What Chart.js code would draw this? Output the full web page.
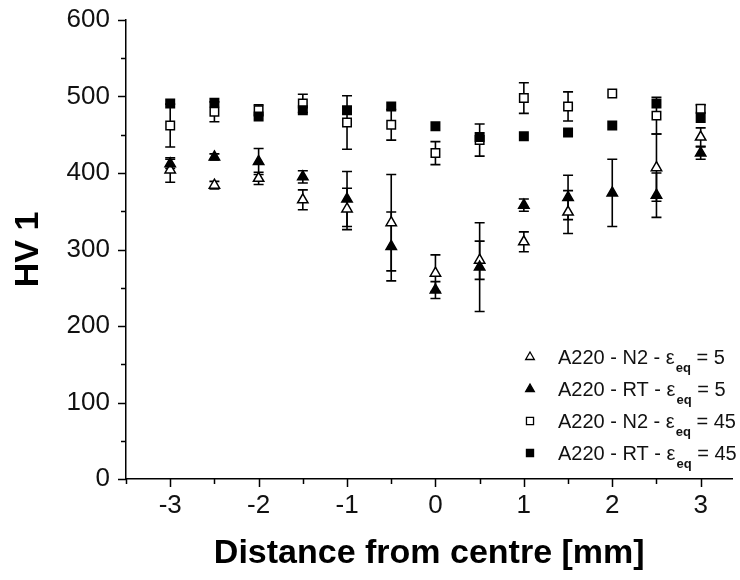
<!DOCTYPE html>
<html><head><meta charset="utf-8">
<script src="https://cdn.jsdelivr.net/npm/chart.js@4.4.0/dist/chart.umd.min.js"></script>
<style>html,body{margin:0;padding:0;background:#fff;overflow:hidden;} #wrap{width:740px;height:580px;}</style>
</head><body><div id="wrap"><canvas id="c" width="740" height="580"></canvas></div>
<script>
// ---- data ----
const distances = [-3, -2.5, -2, -1.5, -1, -0.5, 0, 0.5, 1, 1.5, 2, 2.5, 3];
const n2Eps5     = [404, 384, 393, 365, 353, 335, 269, 286, 310, 349, null, 407, 447];
const n2Eps5Err  = [16, 5, 8, 13, 27, 63, 24, 25, 13, 28, 0, 44, 12];
const rtEps5     = [412, 421, 415, 395, 366, 304, 247, 277, 358, 368, 374, 371, 426];
const rtEps5Err  = [6, 4, 17, 8, 36, 45, 11, 58, 8, 29, 44, 29, 8];
const n2Eps45    = [462, 480, 482, 491, 466, 463, 426, 443, 498, 487, 504, 475, 484];
const n2Eps45Err = [28, 13, 7, 12, 35, 20, 15, 21, 20, 19, 0, 24, 5];
const rtEps45    = [491, 492, 474, 482, 482, 487, 461, 447, 448, 453, 462, 491, 472];
const rtEps45Err = [0, 0, 0, 0, 0, 0, 0, 0, 0, 0, 0, 0, 0];
const seriesNames = [
  {pre: 'A220 - N2 - ε', sub: 'eq', post: ' = 5'},
  {pre: 'A220 - RT - ε', sub: 'eq', post: ' = 5'},
  {pre: 'A220 - N2 - ε', sub: 'eq', post: ' = 45'},
  {pre: 'A220 - RT - ε', sub: 'eq', post: ' = 45'}
];
const xTitle = 'Distance from centre [mm]';
const yTitle = 'HV 1';

const FONT = '"Liberation Sans", Arial, Helvetica, sans-serif';

function pts(vals) {
  const out = [];
  distances.forEach((d, i) => { if (vals[i] !== null) out.push({x: d, y: vals[i]}); });
  return out;
}
function errs(vals, e) {
  const out = [];
  distances.forEach((d, i) => { if (vals[i] !== null) out.push(e[i]); });
  return out;
}

const styles = [
  {pointStyle: 'triangle', fill: '#ffffff'},
  {pointStyle: 'triangle', fill: '#000000'},
  {pointStyle: 'rect', fill: '#ffffff'},
  {pointStyle: 'rect', fill: '#000000'}
];
const allVals = [n2Eps5, rtEps5, n2Eps45, rtEps45];
const allErrs = [n2Eps5Err, rtEps5Err, n2Eps45Err, rtEps45Err];

const datasets = allVals.map((v, k) => ({
  label: seriesNames[k].pre + seriesNames[k].sub + seriesNames[k].post,
  data: pts(v),
  errors: errs(v, allErrs[k]),
  showLine: false,
  pointStyle: styles[k].pointStyle,
  pointRadius: 6,
  pointHoverRadius: 6,
  backgroundColor: styles[k].fill,
  borderColor: '#000',
  borderWidth: 1.5,
  order: 4 - k
}));

const errorBarPlugin = {
  id: 'errorBars',
  beforeDatasetsDraw(chart) {
    const ctx = chart.ctx, xs = chart.scales.x, ys = chart.scales.y;
    ctx.save();
    ctx.strokeStyle = '#000';
    ctx.lineWidth = 1.6;
    chart.data.datasets.forEach(ds => {
      ds.data.forEach((p, i) => {
        const e = ds.errors[i];
        if (!e) return;
        const x = xs.getPixelForValue(p.x);
        const yt = ys.getPixelForValue(p.y + e);
        const yb = ys.getPixelForValue(p.y - e);
        ctx.beginPath();
        ctx.moveTo(x, yt); ctx.lineTo(x, yb);
        ctx.moveTo(x - 5, yt); ctx.lineTo(x + 5, yt);
        ctx.moveTo(x - 5, yb); ctx.lineTo(x + 5, yb);
        ctx.stroke();
      });
    });
    ctx.restore();
  }
};

const tickPlugin = {
  id: 'outTicks',
  afterDraw(chart) {
    const ctx = chart.ctx, xs = chart.scales.x, ys = chart.scales.y;
    const area = chart.chartArea;
    ctx.save();
    ctx.strokeStyle = '#000';
    ctx.lineWidth = 1.5;
    ctx.beginPath();
    ys.ticks.forEach(t => {
      const y = Math.round(ys.getPixelForValue(t.value)) + 0.5;
      const major = t.value % 100 === 0;
      ctx.moveTo(area.left - (major ? 8 : 5), y);
      ctx.lineTo(area.left, y);
    });
    xs.ticks.forEach(t => {
      const x = Math.round(xs.getPixelForValue(t.value)) + 0.5;
      const major = Number.isInteger(t.value);
      ctx.moveTo(x, area.bottom + (major ? 8 : 5));
      ctx.lineTo(x, area.bottom);
    });
    ctx.stroke();
    ctx.restore();
  }
};

const legendPlugin = {
  id: 'subLegend',
  afterDraw(chart) {
    const ctx = chart.ctx;
    const area = chart.chartArea;
    const x0 = area.left + 404, y0 = area.top + 337, rowH = 32;
    ctx.save();
    chart.data.datasets.forEach((ds, k) => {
      const y = y0 + k * rowH;
      ctx.fillStyle = styles[k].fill;
      ctx.strokeStyle = '#000';
      ctx.lineWidth = 1.3;
      Chart.helpers.drawPoint(ctx, {pointStyle: styles[k].pointStyle, radius: 5, borderWidth: 1.3}, x0, y);
      ctx.fillStyle = '#111';
      ctx.textBaseline = 'alphabetic';
      let tx = x0 + 28;
      const base = y + 7;
      ctx.font = '20px ' + FONT;
      ctx.fillText(seriesNames[k].pre, tx, base);
      tx += ctx.measureText(seriesNames[k].pre).width + 1;
      ctx.font = 'bold 13px ' + FONT;
      ctx.fillText(seriesNames[k].sub, tx, base + 8);
      tx += ctx.measureText(seriesNames[k].sub).width;
      ctx.font = '20px ' + FONT;
      ctx.fillText(seriesNames[k].post, tx, base);
    });
    ctx.restore();
  }
};

new Chart(document.getElementById('c'), {
  type: 'scatter',
  data: {datasets},
  plugins: [errorBarPlugin, tickPlugin, legendPlugin],
  options: {
    responsive: false,
    animation: false,
    devicePixelRatio: 1,
    layout: {padding: {top: 20, right: 0, left: 0, bottom: 0}},
    plugins: {legend: {display: false}, tooltip: {enabled: false}},
    scales: {
      x: {
        type: 'linear', min: -3.5, max: 3.36,
        afterBuildTicks: s => { s.ticks = s.ticks.filter(t => Math.abs(t.value * 2 - Math.round(t.value * 2)) < 1e-6); },
        afterFit: s => { s.height = 101; s.paddingLeft = 0; s.paddingRight = 0; },
        ticks: {
          stepSize: 0.5, includeBounds: false, autoSkip: false, maxRotation: 0, padding: 3,
          color: '#111', font: {family: FONT, size: 26},
          callback: v => Number.isInteger(v) ? String(v) : ''
        },
        grid: {display: false},
        border: {display: true, color: '#000', width: 1.5},
        title: {display: true, text: xTitle, color: '#000', font: {family: FONT, size: 34, weight: 'bold'}, padding: {top: 0, bottom: 6}}
      },
      y: {
        min: 0, max: 600,
        afterFit: s => { s.width = 126; s.paddingTop = 0; s.paddingBottom = 0; },
        ticks: {
          stepSize: 50, autoSkip: false, padding: 8,
          color: '#111', font: {family: FONT, size: 26},
          callback: v => v % 100 === 0 ? String(v) : ''
        },
        grid: {display: false},
        border: {display: true, color: '#000', width: 1.5},
        title: {display: true, text: yTitle, color: '#000', font: {family: FONT, size: 34, weight: 'bold'}, padding: {top: 8, bottom: 0}}
      }
    }
  }
});
</script>
</body></html>
